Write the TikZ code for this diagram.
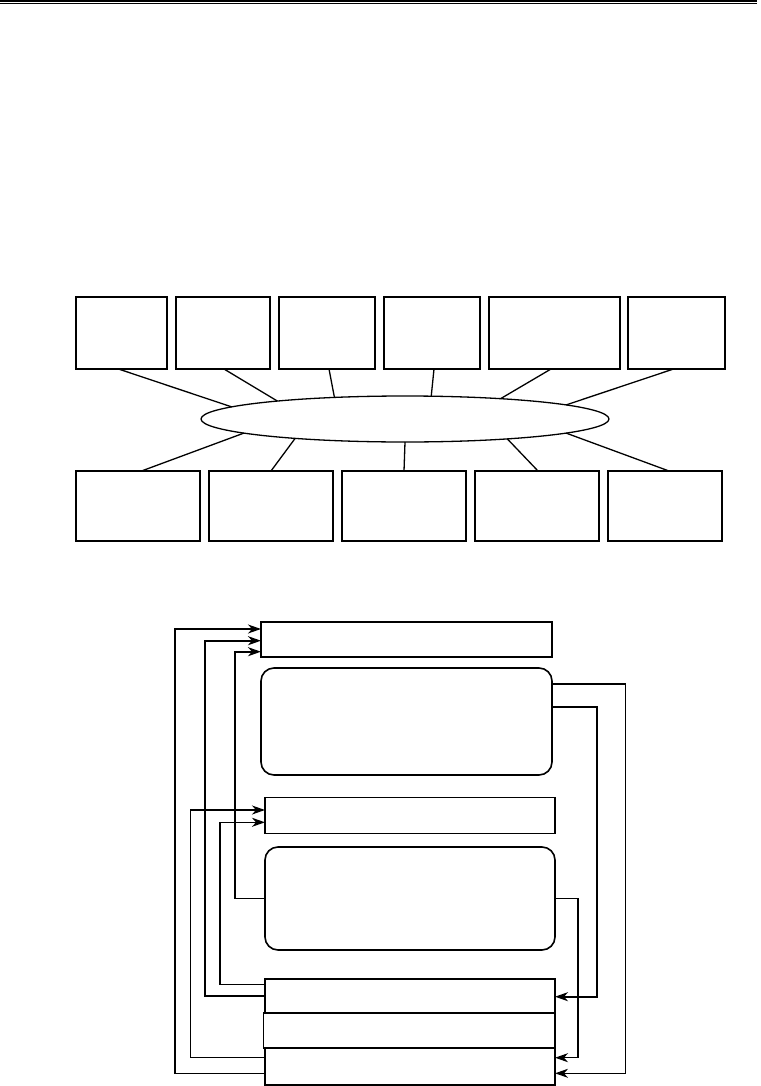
\documentclass[tikz,border=0pt]{standalone}
\usetikzlibrary{arrows.meta,shapes.geometric,calc}
\begin{document}
\begin{tikzpicture}[x=1pt,y=-1pt,
  box/.style={draw,line width=1.6pt,inner sep=0pt,outer sep=0pt,rectangle},
  rbox/.style={box,rounded corners=13pt},
  link/.style={line width=1.3pt},
  fb/.style={line width=1.2pt,-{Stealth[length=13pt,width=9pt,inset=4pt]}},
  fbthick/.style={fb,line width=1.8pt},
  fbmid/.style={fb,line width=1.5pt}]
\useasboundingbox (0,0) rectangle (760,1086);
% header rule
\draw[line width=1.6pt] (0,1.2) -- (757,1.2);
\draw[line width=0.8pt] (0,3.6) -- (757,3.6);
% top row
\node[box,minimum width=91pt,minimum height=72pt] (t1) at (121.5,333) {};
\node[box,minimum width=94pt,minimum height=72pt] (t2) at (223,333) {};
\node[box,minimum width=96pt,minimum height=72pt] (t3) at (327,333) {};
\node[box,minimum width=96pt,minimum height=72pt] (t4) at (432,333) {};
\node[box,minimum width=131pt,minimum height=72pt] (t5) at (554.5,333) {};
\node[box,minimum width=97pt,minimum height=72pt] (t6) at (676.5,333) {};
% ellipse
\node[draw,ellipse,line width=1.3pt,inner sep=0pt,outer sep=0pt,minimum width=408pt,minimum height=46pt] (ell) at (405,419) {};
% bottom row
\node[box,minimum width=124pt,minimum height=70pt] (b1) at (138,506) {};
\node[box,minimum width=124pt,minimum height=70pt] (b2) at (271,506) {};
\node[box,minimum width=124pt,minimum height=70pt] (b3) at (404,506) {};
\node[box,minimum width=124pt,minimum height=70pt] (b4) at (537,506) {};
\node[box,minimum width=114pt,minimum height=70pt] (b5) at (665,506) {};
% links top
\draw[link] ([xshift=-3]t1.south) -- (ell.176);
\draw[link] ([xshift=1]t2.south) -- (ell.172);
\draw[link] ([xshift=2]t3.south) -- (ell.163);
\draw[link] ([xshift=2]t4.south) -- (ell.41);
\draw[link] ([xshift=-3.5]t5.south) -- (ell.12);
\draw[link] ([xshift=-3]t6.south) -- (ell.5);
% links bottom
\draw[link] ([xshift=3.5]b1.north) -- (ell.185.2);
\draw[link] (b2.north) -- (ell.190.9);
\draw[link] (b3.north) -- (ell.270);
\draw[link] ([xshift=1]b4.north) -- (ell.349.4);
\draw[link] ([xshift=4]b5.north) -- (ell.355.1);
% lower section
\node[box,minimum width=291pt,minimum height=35pt] (A) at (406.5,639.5) {};
\node[rbox,minimum width=291pt,minimum height=107pt] (B) at (406.5,721.5) {};
\node[box,minimum width=290pt,minimum height=36pt] (C) at (410,815.5) {};
\node[rbox,minimum width=290pt,minimum height=103pt] (D) at (410,898.5) {};
\node[box,minimum width=290pt,minimum height=34pt] (E) at (410,996) {};
\node[box,minimum width=291.3pt,minimum height=35pt] (F) at (409.3,1030.5) {};
\node[box,minimum width=290pt,minimum height=37pt] (G) at (410,1066.5) {};
% feedback connectors
\draw[fb] ([yshift=-6.8]G.west) -- ++(-90,0) |- ([yshift=10.5]A.west);
\draw[fbthick] (E.west) -- ++(-60,0) |- ([yshift=-1.2]A.west);
\draw[fbthick] (D.west) -- ++(-30,0) |- ([yshift=-12.2]A.west);
\draw[fb] ([yshift=8.8]G.west) -- ++(-74.3,0) |- ([yshift=5.5]C.west);
\draw[fbmid] ([yshift=11.7]E.west) -- ++(-45,0) |- ([yshift=-6.8]C.west);
\draw[fb] ([yshift=37.5]B.east) -- ++(73.7,0) |- ([yshift=-6.8]G.east);
\draw[fbthick] ([yshift=14.8]B.east) -- ++(45,0) |- ([yshift=-0.7]E.east);
\draw[fb] (D.east) -- ++(23,0) |- ([yshift=8.8]G.east);
\end{tikzpicture}
\end{document}
